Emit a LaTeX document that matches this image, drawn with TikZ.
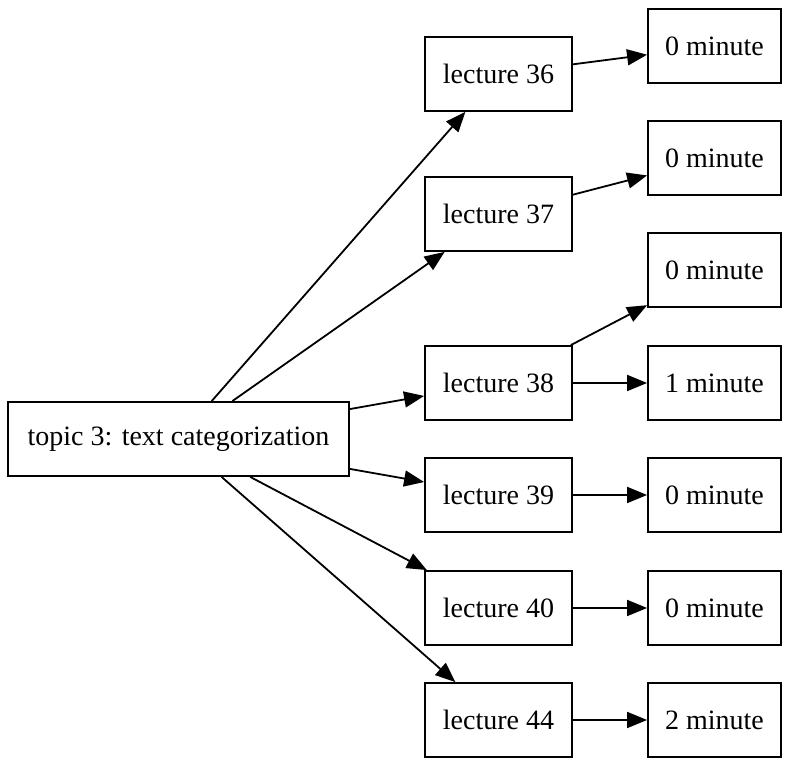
\documentclass[tikz,border=0pt]{standalone}
\usepackage{fontspec}
\setmainfont{Liberation Serif}
\usetikzlibrary{arrows.meta}
\tikzset{
  box/.style={draw=black,line width=1.8pt,rectangle,inner sep=0pt,minimum height=74pt,font=\fontsize{28pt}{32pt}\selectfont},
  lecbox/.style={box,minimum width=147pt},
  minbox/.style={box,minimum width=133pt},
  edge/.style={draw=black,line width=1.8pt,-{Triangle[length=20pt,width=16pt]}}
}
\begin{document}
\begin{tikzpicture}[x=1pt,y=1pt]
\path[use as bounding box,fill=white] (0,0) rectangle (790,767);

\node[box,minimum width=341pt] (topic) at (178.5,328) {topic 3: text categorization};

\node[lecbox] (l36) at (498.5,693) {lecture 36};
\node[lecbox] (l37) at (498.5,553) {lecture 37};
\node[lecbox] (l38) at (498.5,384) {lecture 38};
\node[lecbox] (l39) at (498.5,272) {lecture 39};
\node[lecbox] (l40) at (498.5,159) {lecture 40};
\node[lecbox] (l44) at (498.5,47) {lecture 44};

\node[minbox] (m36) at (714.5,721) {0 minute};
\node[minbox] (m37) at (714.5,609) {0 minute};
\node[minbox] (m38a) at (714.5,497) {0 minute};
\node[minbox] (m38b) at (714.5,384) {1 minute};
\node[minbox] (m39) at (714.5,272) {0 minute};
\node[minbox] (m40) at (714.5,159) {0 minute};
\node[minbox] (m44) at (714.5,47) {2 minute};

\foreach \l in {l36,l37,l38,l39,l40,l44}
  \draw[edge] (topic) -- (\l);

\draw[edge] (l36) -- (m36);
\draw[edge] (l37) -- (m37);
\draw[edge] (l38) -- (m38a);
\draw[edge] (l38) -- (m38b);
\draw[edge] (l39) -- (m39);
\draw[edge] (l40) -- (m40);
\draw[edge] (l44) -- (m44);
\end{tikzpicture}
\end{document}
